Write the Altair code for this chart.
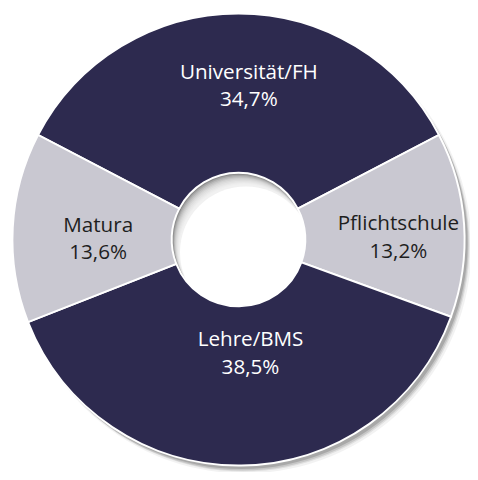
import math
import altair as alt
import pandas as pd

categories = ["Universität/FH", "Pflichtschule", "Lehre/BMS", "Matura"]
shares = [34.7, 13.2, 38.5, 13.6]
share_labels = ["34,7%", "13,2%", "38,5%", "13,6%"]

NAVY = "#2d2a4f"
LIGHT = "#c9c8d1"
slice_colors = [NAVY, LIGHT, NAVY, LIGHT]
text_colors = ["#ffffff", "#1e1e1e", "#ffffff", "#1e1e1e"]

df = pd.DataFrame({
    "cat": categories,
    "share": shares,
    "label": [c + "\n" + s for c, s in zip(categories, share_labels)],
    "order": list(range(len(categories))),
})

CX, CY = 234.5, 231.5
R_OUT, R_IN = 230, 68
start = -math.radians(shares[0] * 3.6 / 2)
theta_scale = alt.Scale(domain=[0, sum(shares)], range=[start, start + 2 * math.pi])

one = pd.DataFrame({"v": [1]})


def disk(dx, dy, r, color, opacity):
    return alt.Chart(one).mark_arc(
        radius=r, theta=0, theta2=2 * math.pi, fill=color, opacity=opacity, strokeWidth=0
    ).encode(x=alt.value(CX + dx), y=alt.value(CY + dy))


# soft outer drop shadow (bottom-right)
shadow_layers = [
    disk(6, 7, R_OUT + 1, "#000000", 0.05),
    disk(5, 6, R_OUT, "#000000", 0.08),
    disk(4, 5, R_OUT, "#000000", 0.11),
    disk(3, 3.5, R_OUT, "#000000", 0.15),
]

# inset shadow in the hole (top-left)
hole_layers = [disk(0, 0, R_IN, "#ffffff", 1.0), disk(0, 0, R_IN, "#8c8c8c", 1.0)]
for k in range(1, 10):
    hole_layers.append(disk(0.7 * k, 1.2 * k, R_IN - 1, "#ffffff", 0.22))
hole_layers.append(disk(7.5, 13, R_IN - 1, "#ffffff", 1.0))

arcs = alt.Chart(df).mark_arc(
    radius=R_OUT, radius2=R_IN, stroke="#ffffff", strokeWidth=2
).encode(
    theta=alt.Theta("share:Q", stack=True, scale=theta_scale),
    order=alt.Order("order:Q"),
    x=alt.value(CX),
    y=alt.value(CY),
    color=alt.Color("cat:N", scale=alt.Scale(domain=categories, range=slice_colors), legend=None),
)

label_base = alt.Chart(df).transform_window(
    cum="sum(share)", sort=[alt.SortField("order")], frame=[None, 0]
).transform_calculate(mid="datum.cum - datum.share / 2")


def label_layer(cond, cx, cy, r):
    return label_base.transform_filter(cond).mark_text(
        radius=r, font="Open Sans", fontSize=21, lineBreak="\n", lineHeight=28,
        align="center", baseline="middle"
    ).encode(
        theta=alt.Theta("mid:Q", stack=None, scale=theta_scale),
        x=alt.value(cx),
        y=alt.value(cy),
        text="label:N",
        color=alt.Color("cat:N", scale=alt.Scale(domain=categories, range=text_colors), legend=None),
    )


labels_big = label_layer("datum.share > 20", 245, 198, 136)
labels_small = label_layer("datum.share <= 20", 244.5, 226, 153)

chart = alt.layer(*shadow_layers, *hole_layers, arcs, labels_big, labels_small).resolve_scale(
    color="independent"
).properties(
    width=470, height=464, padding=0, background="#ffffff",
    autosize=alt.AutoSizeParams(type="none"),
).configure_view(stroke=None)

chart.save("out.html", embed_options={"renderer": "svg", "actions": False})
